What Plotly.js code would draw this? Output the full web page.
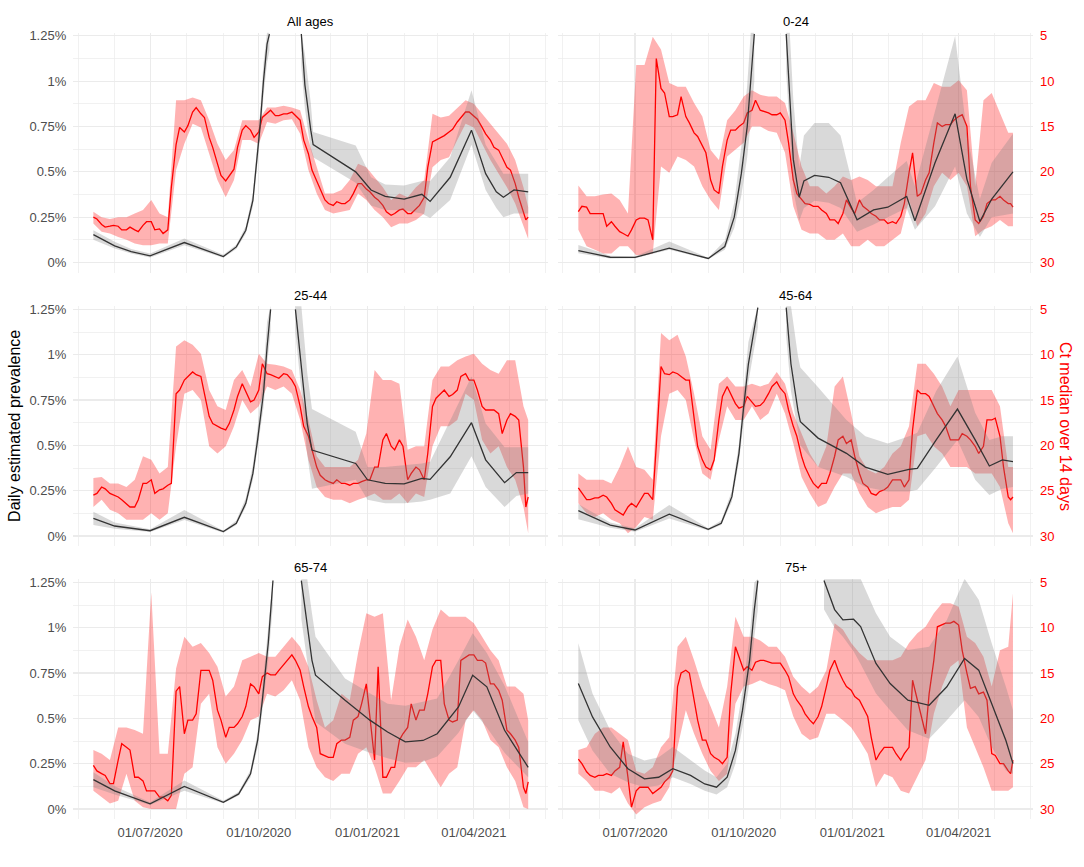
<!DOCTYPE html>
<html><head><meta charset="utf-8">
<script src="https://cdn.plot.ly/plotly-3.0.1.min.js"></script>
<style>html,body{margin:0;padding:0;background:#fff}#chart{width:1084px;height:867px}</style>
</head><body><div id="chart"></div>
<script>
// weekly dates (Ct median and its interval)
const dates = ['2020-05-14','2020-05-21','2020-05-28','2020-06-04','2020-06-11','2020-06-18','2020-06-25','2020-07-02','2020-07-09','2020-07-16','2020-07-23','2020-07-30','2020-08-06','2020-08-13','2020-08-20','2020-08-27','2020-09-03','2020-09-10','2020-09-17','2020-09-24','2020-10-01','2020-10-08','2020-10-15','2020-10-22','2020-10-29','2020-11-05','2020-11-12','2020-11-19','2020-11-26','2020-12-03','2020-12-10','2020-12-17','2020-12-24','2020-12-31','2021-01-07','2021-01-14','2021-01-21','2021-01-28','2021-02-04','2021-02-11','2021-02-18','2021-02-25','2021-03-04','2021-03-11','2021-03-18','2021-03-25','2021-04-01','2021-04-08','2021-04-15','2021-04-22','2021-04-29','2021-05-06','2021-05-13','2021-05-17'];
// extra mid-week dates for the Ct median line
const midDates = ['2020-05-17','2020-05-24','2020-05-31','2020-06-07','2020-06-14','2020-06-21','2020-06-28','2020-07-05','2020-07-12','2020-07-19','2020-07-26','2020-08-02','2020-08-09','2020-08-16','2020-08-23','2020-08-30','2020-09-06','2020-09-13','2020-09-20','2020-09-27','2020-10-04','2020-10-11','2020-10-18','2020-10-25','2020-11-01','2020-11-08','2020-11-15','2020-11-22','2020-11-29','2020-12-06','2020-12-13','2020-12-20','2020-12-27','2021-01-03','2021-01-10','2021-01-17','2021-01-24','2021-01-31','2021-02-07','2021-02-14','2021-02-21','2021-02-28','2021-03-07','2021-03-14','2021-03-21','2021-03-28','2021-04-04','2021-04-11','2021-04-18','2021-04-25','2021-05-02','2021-05-09','2021-05-15'];

// Ct median over 14 days (red): weekly values, mid-week values, interval
const ctAll    = [25.0,25.8,26.0,26.0,26.4,26.4,25.9,25.5,26.3,26.4,17.0,15.6,13.4,13.6,16.2,19.1,21.0,19.7,15.4,15.4,15.6,13.6,13.8,13.6,13.4,14.3,18.0,21.0,23.1,23.7,23.5,23.1,21.3,21.9,22.8,23.7,24.8,24.2,24.6,24.1,22.8,16.7,16.2,15.6,14.5,13.4,13.8,15.1,16.5,17.6,19.5,21.3,24.6,25.0];
const ctAllMid = [25.2,26.1,25.9,26.4,26.1,26.6,25.5,26.4,26.8,21.7,15.1,14.9,12.9,14.0,17.3,20.4,20.4,17.3,14.9,16.2,14.0,13.2,13.8,13.6,13.8,16.5,19.8,22.0,23.5,23.3,23.5,22.4,21.3,22.2,23.1,24.4,24.6,24.1,24.6,23.7,19.5,16.5,16.0,15.3,14.0,13.4,14.2,15.8,17.3,18.4,19.8,22.8,25.3];
const ctAllLo  = [24.4,25.0,25.2,25.0,25.0,24.6,24.2,23.1,24.6,25.0,12.1,12.1,11.8,12.1,14.3,16.9,18.7,17.6,14.3,14.3,14.3,12.9,12.9,12.7,12.9,13.2,16.5,19.5,22.4,22.4,22.0,20.9,19.1,19.5,20.6,21.7,23.1,22.4,22.8,21.7,20.9,13.6,14.0,13.8,12.9,12.1,12.5,13.6,14.7,15.8,16.9,18.7,21.7,23.9];
const ctAllHi  = [25.7,26.6,26.8,27.2,27.5,27.9,28.1,28.1,27.9,27.9,19.8,16.9,14.7,15.1,18.0,20.9,22.8,20.9,16.5,16.5,16.9,14.5,14.7,14.3,14.2,15.8,19.8,22.4,24.2,24.6,24.4,24.2,22.4,23.1,24.2,25.0,26.1,25.7,25.7,25.3,24.6,19.5,18.7,18.4,16.5,14.7,15.1,16.9,18.7,20.2,21.7,23.5,26.1,27.4];

const ct024    = [24.4,23.9,24.6,24.6,25.5,26.6,27.1,25.3,25.1,27.5,10.8,13.9,13.7,13.9,15.7,17.2,20.9,22.4,16.5,15.4,14.6,13.2,13.2,13.5,13.7,14.3,20.9,23.1,23.6,23.8,24.6,25.3,24.6,24.0,23.1,24.2,24.9,25.3,25.5,24.9,20.1,22.7,20.9,16.8,15.0,14.8,13.9,15.0,25.3,24.9,23.1,22.7,23.5,23.9];
const ct024Mid = [23.8,24.6,24.6,26.0,26.0,26.8,26.4,25.1,25.3,7.5,11.3,13.9,11.7,14.6,16.1,17.9,22.0,19.4,15.4,15.0,13.5,12.1,13.3,13.7,13.5,16.8,22.4,23.5,23.8,24.2,25.3,25.7,23.1,24.6,23.8,24.6,25.3,25.7,25.7,23.5,17.9,22.4,20.1,14.6,14.8,14.3,13.7,21.6,25.7,23.5,23.1,23.1,23.5];
const ct024Lo  = [21.5,22.7,22.7,22.5,22.4,23.1,24.6,8.2,8.2,5.1,6.5,10.2,10.6,10.6,12.4,13.9,17.6,18.7,14.3,13.2,11.7,11.0,11.5,11.7,11.7,12.4,15.7,19.4,21.6,21.6,22.4,21.6,20.5,20.9,20.5,20.9,21.6,21.6,21.6,16.8,12.8,12.1,12.1,10.2,10.6,10.6,9.9,11.0,21.6,12.1,11.3,13.5,15.7,15.7];
const ct024Hi  = [26.4,28.2,28.6,29.0,29.0,28.2,28.2,29.2,29.2,29.0,19.4,20.1,18.3,18.7,19.4,21.6,23.1,24.2,18.3,17.6,16.8,15.0,15.0,15.5,15.7,17.9,23.8,26.4,26.8,26.8,27.5,27.5,26.8,28.2,28.2,27.5,28.2,28.2,27.5,26.8,23.1,26.0,24.6,21.6,20.1,20.9,20.1,21.6,27.1,26.4,26.0,25.3,26.0,26.0];

const ct2544    = [25.5,24.6,25.3,25.7,26.4,26.8,24.2,23.8,24.9,24.4,14.3,12.8,11.9,12.4,16.8,17.9,18.3,16.1,13.2,15.2,13.9,12.1,12.4,12.1,12.8,15.7,19.0,22.4,23.8,24.2,24.2,24.4,24.2,23.8,22.4,19.4,20.1,19.4,23.8,22.4,23.8,15.7,14.3,14.6,13.9,12.1,12.8,15.7,16.1,16.5,17.2,16.8,22.4,25.7];
const ct2544Mid = [25.3,24.8,25.5,26.0,26.8,26.0,24.2,25.3,24.8,24.2,13.9,12.4,12.2,14.3,17.6,18.1,17.6,14.6,14.1,15.0,11.0,12.2,12.6,12.2,13.5,17.9,20.5,23.3,24.0,23.8,24.2,24.2,24.0,23.8,22.4,18.7,20.5,20.1,23.1,22.7,20.9,14.8,13.9,14.4,12.4,12.8,13.9,16.1,16.1,18.7,16.5,17.2,26.8];
const ct2544Lo  = [23.6,23.5,24.2,24.2,24.6,23.8,21.2,21.6,23.1,22.4,9.1,8.4,8.9,9.9,13.9,15.7,16.1,12.8,11.7,13.5,9.9,11.0,11.1,11.3,11.7,13.9,17.2,21.2,22.4,22.4,22.4,22.4,21.6,18.7,11.7,12.8,12.8,13.2,20.5,20.1,20.1,12.8,11.3,11.3,10.6,10.2,9.9,11.0,11.7,12.1,10.6,10.6,15.7,17.2];
const ct2544Hi  = [26.8,26.0,27.1,27.5,28.2,28.2,28.2,27.5,28.2,27.5,20.1,14.3,13.9,15.0,20.1,20.9,20.1,17.9,15.0,16.5,15.7,13.5,13.9,13.5,14.3,17.2,21.6,24.6,25.7,26.0,26.0,26.4,26.0,25.7,25.3,26.0,26.0,25.3,26.4,25.3,25.7,20.1,17.9,17.9,17.2,14.3,15.0,19.4,20.9,20.1,22.4,23.8,26.8,29.7];

const ct4564    = [24.7,26.0,25.8,25.5,26.4,27.5,26.8,26.8,25.3,26.0,11.3,12.2,12.1,12.8,17.2,21.6,22.7,17.2,13.5,15.4,15.7,15.3,15.6,14.3,13.0,14.3,17.9,21.2,23.5,24.7,24.2,21.2,19.0,19.4,23.1,24.6,25.5,24.9,23.8,23.8,23.8,13.9,14.3,15.7,17.2,19.4,19.4,19.0,20.1,20.1,17.2,19.0,25.7,25.7];
const ct4564Mid = [25.3,26.0,25.8,25.7,27.1,27.7,26.4,26.2,25.3,20.0,12.1,11.9,12.4,12.8,20.1,22.4,21.6,14.6,14.3,15.9,14.6,15.7,15.2,13.5,13.7,16.1,19.0,22.4,24.2,24.2,23.1,19.4,19.8,21.2,24.2,25.3,25.1,24.6,23.8,24.6,18.3,14.3,14.6,16.5,17.9,19.4,18.7,19.4,20.9,17.2,17.0,22.4,26.0];
const ct4564Lo  = [23.1,23.8,23.8,23.8,24.2,22.4,20.1,22.4,22.7,23.8,7.6,8.4,7.8,10.2,14.3,19.0,20.5,13.2,12.4,13.5,13.5,13.2,13.5,13.2,11.9,13.2,16.5,18.7,20.9,22.4,20.1,13.5,12.4,16.5,21.2,22.7,23.1,22.4,20.9,20.1,17.9,11.0,11.0,12.1,13.5,15.7,13.9,13.9,13.9,13.9,13.9,15.7,22.4,22.4];
const ct4564Hi  = [26.4,27.5,27.9,27.5,28.2,28.6,29.7,29.0,27.9,28.2,19.0,14.3,13.9,15.0,19.4,23.1,23.8,19.4,15.7,17.2,17.2,15.7,17.2,16.5,14.3,16.5,19.8,23.5,25.3,26.8,26.4,24.6,23.1,23.1,25.3,26.8,27.5,27.1,26.8,26.8,26.0,19.0,18.7,20.1,20.9,22.4,22.4,22.4,23.1,23.1,23.1,24.6,28.6,29.7];

const ct6574    = [25.2,26.1,27.2,24.6,23.2,26.5,26.9,28.0,28.7,29.1,17.0,21.7,20.2,14.7,14.7,19.1,22.1,21.0,19.8,16.2,17.3,15.0,15.2,14.1,13.0,14.7,18.7,21.0,24.1,24.3,22.4,22.1,19.8,16.2,24.6,26.5,25.4,22.4,21.0,20.2,19.1,14.3,13.6,20.2,20.2,13.2,13.0,13.6,16.2,16.9,21.3,22.4,27.6,27.0];
const ct6574Mid = [25.8,26.3,27.2,22.8,23.5,26.5,28.0,28.0,28.7,28.5,16.5,20.2,19.5,14.7,15.8,20.2,21.0,20.6,18.7,16.5,15.4,15.2,14.7,13.6,13.6,16.5,19.8,23.9,24.3,22.8,22.4,20.2,18.4,19.8,14.3,26.5,25.4,21.7,18.4,19.1,17.3,13.6,18.4,20.4,13.6,13.0,13.6,13.9,16.2,18.0,21.7,23.2,28.3];
const ct6574Lo  = [23.5,23.9,24.6,21.0,21.0,21.3,21.7,6.1,23.9,23.9,14.5,11.0,12.1,11.7,12.8,14.3,17.6,16.5,13.6,13.2,12.8,13.2,13.2,12.1,11.0,12.1,14.3,18.0,21.0,20.2,17.3,18.0,12.8,8.4,8.8,8.4,18.0,12.1,9.1,11.0,13.6,10.2,8.0,8.8,8.8,8.8,9.5,11.0,12.5,13.6,16.5,16.5,17.3,20.2];
const ct6574Hi  = [28.0,28.7,29.4,29.1,26.1,29.1,29.8,30.0,30.0,30.0,30.0,26.1,25.4,18.4,17.3,23.2,25.0,23.9,22.4,20.2,19.8,17.3,17.6,16.9,15.8,18.0,23.2,25.4,26.5,26.9,26.1,26.1,23.9,23.2,25.4,28.3,28.3,26.9,25.4,25.4,24.6,26.1,27.6,26.1,25.4,20.2,19.1,20.2,22.4,23.2,25.4,26.9,29.8,30.0];

const ct75    = [24.5,25.9,26.5,26.3,26.3,25.4,26.5,28.0,27.6,28.3,27.6,26.5,16.5,14.7,18.0,22.4,23.9,24.6,24.3,12.1,14.7,14.7,13.6,13.8,13.9,14.7,17.3,18.7,20.2,19.8,16.5,13.6,15.8,16.9,18.0,19.8,24.6,23.2,23.2,24.6,23.2,18.0,21.7,13.6,9.7,9.5,9.7,15.0,16.5,17.1,23.9,25.0,25.8,24.6];
const ct75Mid = [25.0,26.3,26.3,26.1,25.8,22.6,29.8,27.6,27.6,28.0,27.0,25.8,15.0,15.0,20.2,22.4,24.3,25.0,17.3,13.2,14.3,13.8,13.6,13.9,13.9,15.4,18.0,19.5,20.6,18.7,14.7,14.7,16.5,17.6,18.7,22.1,23.9,23.2,23.9,23.9,15.8,19.8,17.3,9.9,9.5,9.3,12.5,16.7,17.3,18.0,24.1,25.0,26.1];
const ct75Lo  = [23.5,23.2,21.7,21.0,21.0,21.7,22.4,25.8,26.1,25.4,23.2,22.1,12.1,11.0,13.6,16.5,18.7,21.0,16.5,8.8,11.0,11.0,11.4,12.1,12.1,13.2,15.4,16.5,17.3,16.5,14.7,9.5,10.2,11.7,12.8,13.6,13.6,13.6,13.6,13.2,11.7,10.6,9.9,8.4,7.3,7.3,7.7,11.0,11.7,13.2,16.5,12.5,12.1,6.2];
const ct75Hi  = [26.1,26.9,28.0,28.0,28.3,27.6,29.4,30.6,29.8,29.4,29.1,27.6,23.2,19.1,21.7,23.9,25.8,26.9,26.1,18.4,16.5,16.2,15.8,16.2,16.5,16.9,19.8,21.7,22.4,22.1,19.5,19.5,20.2,21.0,22.4,23.9,27.6,26.1,26.5,28.0,28.3,26.5,24.6,19.5,16.5,14.3,13.6,21.0,23.2,25.4,28.0,28.0,28.0,27.6];

// Daily estimated prevalence (%) (black) with interval; null = off the top of the chart
const bkAllDates = ['2020-05-14','2020-06-01','2020-06-15','2020-07-01','2020-07-30','2020-09-01','2020-09-12','2020-09-20','2020-09-26','2020-09-29','2020-10-02','2020-10-05','2020-10-08','2020-10-10','2020-10-24','2020-11-06','2020-11-09','2020-11-14','2020-11-16','2020-12-22','2021-01-04','2021-01-16','2021-02-01','2021-02-16','2021-02-23','2021-03-12','2021-03-30','2021-04-11','2021-04-20','2021-04-26','2021-05-05','2021-05-17'];
const bkAll   = [0.154,0.092,0.060,0.037,0.110,0.033,0.086,0.178,0.343,0.526,0.746,1.003,1.204,1.26,null,1.26,0.98,0.73,0.65,0.50,0.40,0.365,0.35,0.376,0.337,0.47,0.73,0.49,0.39,0.36,0.40,0.39];
const bkAllLo = [0.126,0.077,0.050,0.027,0.095,0.026,0.075,0.160,0.31,0.48,0.68,0.92,1.10,1.17,null,1.08,0.85,0.62,0.58,0.44,0.315,0.29,0.288,0.27,0.245,0.345,0.65,0.40,0.30,0.25,0.27,0.27];
const bkAllHi = [0.178,0.114,0.075,0.049,0.132,0.042,0.098,0.200,0.38,0.58,0.82,1.10,1.27,1.27,null,1.27,1.15,0.88,0.72,0.645,0.47,0.43,0.425,0.45,0.45,0.58,0.95,0.65,0.55,0.49,0.49,0.49];

const bk024Dates = ['2020-05-14','2020-06-10','2020-07-01','2020-07-30','2020-09-01','2020-09-15','2020-09-23','2020-09-29','2020-10-04','2020-10-07','2020-10-10','2020-10-24','2020-11-06','2020-11-09','2020-11-12','2020-11-17','2020-11-21','2020-11-30','2020-12-12','2020-12-22','2021-01-05','2021-01-19','2021-01-31','2021-02-16','2021-02-23','2021-03-12','2021-03-29','2021-04-08','2021-04-19','2021-04-29','2021-05-17'];
const bk024   = [0.066,0.029,0.028,0.079,0.022,0.088,0.25,0.49,0.75,0.99,1.26,null,1.26,0.90,0.57,0.36,0.45,0.48,0.47,0.44,0.235,0.29,0.305,0.364,0.23,0.55,0.82,0.46,0.226,0.35,0.50];
const bk024Lo = [0.051,0.022,0.024,0.070,0.018,0.07,0.19,0.37,0.58,0.78,1.0,null,1.05,0.72,0.40,0.23,0.30,0.34,0.33,0.30,0.17,0.21,0.25,0.30,0.18,0.31,0.53,0.27,0.14,0.25,0.27];
const bk024Hi = [0.097,0.037,0.033,0.116,0.026,0.12,0.33,0.64,0.98,1.27,1.27,null,1.27,1.27,0.90,0.52,0.70,0.77,0.77,0.70,0.33,0.40,0.47,0.56,0.42,0.84,1.25,0.71,0.35,0.55,0.71];

const bk2544Dates = ['2020-05-14','2020-06-01','2020-07-01','2020-07-30','2020-09-01','2020-09-12','2020-09-20','2020-09-26','2020-09-30','2020-10-05','2020-10-08','2020-10-11','2020-10-20','2020-11-01','2020-11-06','2020-11-11','2020-11-15','2020-12-22','2021-01-01','2021-01-16','2021-02-01','2021-02-16','2021-02-23','2021-03-12','2021-03-30','2021-04-11','2021-04-27','2021-05-07','2021-05-17'];
const bk2544   = [0.097,0.055,0.029,0.103,0.024,0.07,0.18,0.345,0.53,0.79,1.04,1.25,null,1.25,0.95,0.62,0.474,0.40,0.31,0.29,0.287,0.318,0.312,0.437,0.625,0.42,0.294,0.35,0.35];
const bk2544Lo = [0.06,0.04,0.022,0.088,0.018,0.06,0.16,0.31,0.48,0.71,0.94,1.13,null,1.12,0.80,0.45,0.26,0.31,0.20,0.18,0.18,0.19,0.20,0.235,0.44,0.27,0.16,0.22,0.235];
const bk2544Hi = [0.134,0.075,0.037,0.143,0.029,0.085,0.21,0.39,0.60,0.90,1.18,1.27,null,1.27,1.27,0.90,0.70,0.575,0.38,0.38,0.39,0.40,0.41,0.64,0.88,0.62,0.49,0.49,0.49];

const bk4564Dates = ['2020-05-14','2020-06-10','2020-07-01','2020-07-30','2020-09-01','2020-09-12','2020-09-21','2020-09-27','2020-10-01','2020-10-05','2020-10-13','2020-10-25','2020-11-06','2020-11-10','2020-11-16','2020-11-18','2020-12-03','2020-12-27','2021-01-12','2021-01-31','2021-02-18','2021-02-25','2021-03-13','2021-03-31','2021-04-15','2021-04-27','2021-05-08','2021-05-17'];
const bk4564   = [0.14,0.06,0.033,0.12,0.037,0.07,0.217,0.456,0.713,0.95,1.26,null,1.26,0.95,0.69,0.63,0.54,0.456,0.38,0.34,0.368,0.373,0.53,0.70,0.53,0.386,0.42,0.41];
const bk4564Lo = [0.092,0.045,0.024,0.097,0.03,0.06,0.19,0.41,0.64,0.85,1.15,null,1.10,0.80,0.58,0.50,0.38,0.327,0.27,0.245,0.245,0.255,0.38,0.53,0.31,0.226,0.26,0.27];
const bk4564Hi = [0.176,0.075,0.042,0.171,0.042,0.085,0.25,0.51,0.80,1.07,1.27,null,1.27,1.27,0.99,0.93,0.82,0.64,0.55,0.51,0.55,0.57,0.80,0.99,0.68,0.53,0.55,0.55];

const bk6574Dates = ['2020-05-14','2020-06-01','2020-07-01','2020-07-30','2020-09-01','2020-09-14','2020-09-24','2020-09-30','2020-10-04','2020-10-09','2020-10-13','2020-10-25','2020-11-06','2020-11-11','2020-11-15','2020-11-18','2020-12-13','2021-01-03','2021-01-18','2021-02-02','2021-02-17','2021-03-01','2021-03-19','2021-03-31','2021-04-12','2021-04-27','2021-05-17'];
const bk6574   = [0.162,0.10,0.028,0.124,0.037,0.083,0.194,0.378,0.60,0.914,1.26,null,1.26,1.006,0.82,0.738,0.60,0.49,0.425,0.37,0.378,0.415,0.563,0.738,0.674,0.434,0.23];
const bk6574Lo = [0.12,0.08,0.022,0.10,0.031,0.075,0.175,0.34,0.54,0.82,1.13,null,1.05,0.80,0.62,0.48,0.36,0.31,0.28,0.255,0.26,0.29,0.42,0.545,0.45,0.31,0.175];
const bk6574Hi = [0.203,0.125,0.037,0.157,0.046,0.095,0.215,0.42,0.67,1.02,1.27,null,1.27,1.27,1.08,0.95,0.72,0.64,0.58,0.57,0.59,0.61,0.82,0.97,0.86,0.68,0.37];

const bk75Dates = ['2020-05-14','2020-05-26','2020-06-10','2020-06-25','2020-07-09','2020-07-21','2020-08-02','2020-08-17','2020-08-29','2020-09-08','2020-09-17','2020-09-24','2020-09-30','2020-10-06','2020-10-10','2020-10-13','2020-11-10','2020-12-08','2020-12-17','2020-12-24','2021-01-02','2021-01-08','2021-01-21','2021-02-02','2021-02-17','2021-03-07','2021-03-22','2021-04-06','2021-04-18','2021-04-29','2021-05-11','2021-05-17'];
const bk75   = [0.692,0.508,0.342,0.222,0.166,0.175,0.222,0.185,0.138,0.12,0.175,0.323,0.545,0.82,1.10,1.26,null,1.26,1.10,1.043,1.047,1.006,0.803,0.692,0.60,0.572,0.674,0.83,0.766,0.58,0.378,0.25];
const bk75Lo = [0.49,0.323,0.194,0.148,0.12,0.129,0.175,0.138,0.10,0.08,0.12,0.25,0.45,0.70,0.95,1.10,null,1.10,1.0,0.95,0.87,0.80,0.637,0.545,0.434,0.388,0.49,0.60,0.508,0.342,0.212,0.194];
const bk75Hi = [0.914,0.637,0.434,0.305,0.268,0.286,0.342,0.268,0.212,0.175,0.25,0.415,0.65,0.95,1.25,1.27,null,1.27,1.27,1.27,1.27,1.27,1.08,0.95,0.877,0.895,1.043,1.27,1.154,0.914,0.674,0.545];

// tick labels and titles
const xTickVals = ['2020-07-01','2020-10-01','2021-01-01','2021-04-01'];
const xTickText = ['01/07/2020','01/10/2020','01/01/2021','01/04/2021'];
const prevTickVals = [0,0.25,0.5,0.75,1,1.25];
const prevTickText = ['0%','0.25%','0.5%','0.75%','1%','1.25%'];
const ctTickVals = [5,10,15,20,25,30];
const panelTitles = ['All ages','0-24','25-44','45-64','65-74','75+'];

const panels = [
  {ct:ctAll, mid:ctAllMid, lo:ctAllLo, hi:ctAllHi, bd:bkAllDates, bm:bkAll, bl:bkAllLo, bh:bkAllHi},
  {ct:ct024, mid:ct024Mid, lo:ct024Lo, hi:ct024Hi, bd:bk024Dates, bm:bk024, bl:bk024Lo, bh:bk024Hi},
  {ct:ct2544, mid:ct2544Mid, lo:ct2544Lo, hi:ct2544Hi, bd:bk2544Dates, bm:bk2544, bl:bk2544Lo, bh:bk2544Hi},
  {ct:ct4564, mid:ct4564Mid, lo:ct4564Lo, hi:ct4564Hi, bd:bk4564Dates, bm:bk4564, bl:bk4564Lo, bh:bk4564Hi},
  {ct:ct6574, mid:ct6574Mid, lo:ct6574Lo, hi:ct6574Hi, bd:bk6574Dates, bm:bk6574, bl:bk6574Lo, bh:bk6574Hi},
  {ct:ct75, mid:ct75Mid, lo:ct75Lo, hi:ct75Hi, bd:bk75Dates, bm:bk75, bl:bk75Lo, bh:bk75Hi}
];

const FONT = 'Liberation Sans, Arial, Helvetica, sans-serif';
const colDomains = [[0.0676,0.5058],[0.5150,0.9530]];
const rowDomains = [[0.68512,0.96217],[0.36967,0.64671],[0.05479,0.33183]];
const titleX = [0.2867,0.734];
const titleY = [0.975,0.6597,0.3457];
const xRange = ['2020-04-27','2021-06-03'];
const prevRange = [-0.058,1.267];
const ctRange = [31.16,4.66];
const GRID = '#ebebeb';

function bandPolygon(xs, lo, hi, mid) {
  const X = [], Y = [];
  let seg = [];
  const flush = () => {
    if (!seg.length) return;
    seg.forEach(i => { X.push(xs[i]); Y.push(hi[i]); });
    seg.slice().reverse().forEach(i => { X.push(xs[i]); Y.push(lo[i]); });
    X.push(null); Y.push(null);
    seg = [];
  };
  for (let i = 0; i < xs.length; i++) {
    if (mid[i] === null) flush(); else seg.push(i);
  }
  flush();
  return {X, Y};
}

function mergeLine(weekly, mid) {
  const X = [], Y = [];
  for (let k = 0; k < dates.length; k++) {
    X.push(dates[k]); Y.push(weekly[k]);
    if (k < midDates.length) { X.push(midDates[k]); Y.push(mid[k]); }
  }
  return {X, Y};
}

const traces = [];
const layout = {
  width:1084, height:867,
  margin:{l:0,r:0,t:0,b:0},
  paper_bgcolor:'#fff', plot_bgcolor:'#fff',
  showlegend:false,
  font:{family:FONT, size:13, color:'#000'},
  annotations:[]
};

panels.forEach((p, i) => {
  const n = i + 1, row = Math.floor(i / 2), col = i % 2;
  const sx = n === 1 ? '' : String(n);
  const sy2 = String(n + 6);
  const xa = 'x' + sx, ya = 'y' + sx, ya2 = 'y' + sy2;

  // Ct interval and median on the Ct axis (lower layer)
  traces.push({type:'scatter', mode:'lines', x:dates.concat(dates.slice().reverse()),
    y:p.hi.concat(p.lo.slice().reverse()), fill:'toself', fillcolor:'rgba(255,0,0,0.3)',
    line:{width:0, color:'rgba(0,0,0,0)'}, xaxis:xa, yaxis:ya, hoverinfo:'skip'});
  const ln = mergeLine(p.ct, p.mid);
  traces.push({type:'scatter', mode:'lines', x:ln.X, y:ln.Y, line:{color:'#ff0000', width:1.3},
    xaxis:xa, yaxis:ya});

  // prevalence interval and line on the overlaying prevalence axis (upper layer)
  const poly = bandPolygon(p.bd, p.bl, p.bh, p.bm);
  traces.push({type:'scatter', mode:'lines', x:poly.X, y:poly.Y, fill:'toself',
    fillcolor:'rgba(128,128,128,0.3)', line:{width:0, color:'rgba(0,0,0,0)'},
    xaxis:xa, yaxis:ya2, hoverinfo:'skip'});
  traces.push({type:'scatter', mode:'lines', x:p.bd, y:p.bm, connectgaps:false,
    line:{color:'#333333', width:1.3}, xaxis:xa, yaxis:ya2});

  layout['xaxis' + sx] = {
    domain:colDomains[col], anchor:ya, type:'date', range:xRange,
    tickmode:'array', tickvals:xTickVals, ticktext:xTickText,
    showticklabels: row === 2, ticks:'', ticklabelstandoff:4,
    tickfont:{family:FONT, size:13, color:'#4d4d4d'},
    showgrid:true, gridcolor:GRID, gridwidth:1.1,
    minor:{dtick:'M1', tick0:'2020-01-01', showgrid:true, gridcolor:GRID, gridwidth:0.7},
    zeroline:false, showline:false, fixedrange:true
  };
  layout['yaxis' + sx] = {
    domain:rowDomains[row], anchor:xa, side:'right', range:ctRange, autorange:false,
    tickmode:'array', tickvals:ctTickVals, ticktext:ctTickVals.map(String),
    showticklabels: col === 1, ticks:'', ticklabelstandoff:6,
    tickfont:{family:FONT, size:13, color:'#ff0000'},
    showgrid:true, gridcolor:GRID, gridwidth:1.1,
    minor:{dtick:2.5, tick0:5, showgrid:true, gridcolor:GRID, gridwidth:0.7},
    zeroline:false, showline:false, fixedrange:true
  };
  layout['yaxis' + sy2] = {
    overlaying:ya, anchor:xa, side:'left', range:prevRange, autorange:false,
    tickmode:'array', tickvals:prevTickVals, ticktext:prevTickText,
    showticklabels: col === 0, ticks:'', ticklabelstandoff:6,
    tickfont:{family:FONT, size:13, color:'#4d4d4d'},
    showgrid:false, zeroline:false, showline:false, fixedrange:true
  };

  layout.annotations.push({text:panelTitles[i], xref:'paper', yref:'paper',
    x:titleX[col], y:titleY[row], xanchor:'center', yanchor:'middle', showarrow:false,
    font:{family:FONT, size:13, color:'#000'}});
});

layout.annotations.push({text:'Daily estimated prevalence', xref:'paper', yref:'paper',
  x:0.0138, y:0.5087, xanchor:'center', yanchor:'middle', textangle:-90, showarrow:false,
  font:{family:FONT, size:16, color:'#000'}});
layout.annotations.push({text:'Ct median over 14 days', xref:'paper', yref:'paper',
  x:0.9825, y:0.5087, xanchor:'center', yanchor:'middle', textangle:90, showarrow:false,
  font:{family:FONT, size:16, color:'#ff0000'}});

Plotly.newPlot('chart', traces, layout, {displayModeBar:false, staticPlot:true});
</script>
</body></html>
